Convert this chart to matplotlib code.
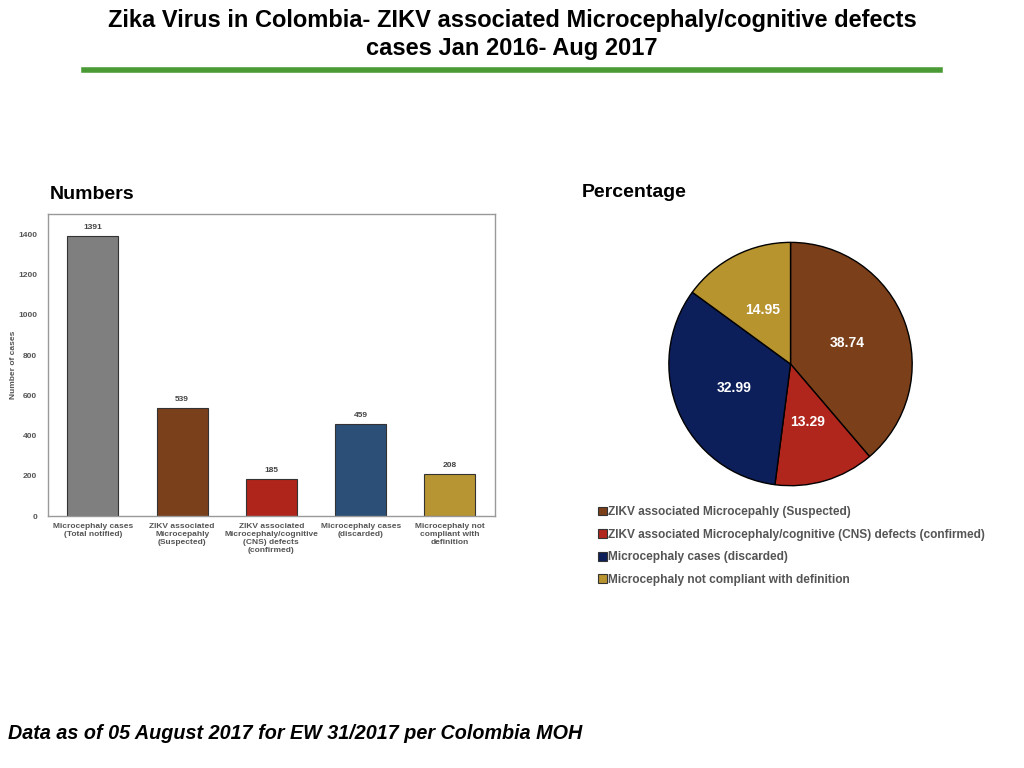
import matplotlib
matplotlib.use("Agg")
import matplotlib.pyplot as plt
from matplotlib.lines import Line2D
from matplotlib.patches import Patch

plt.rcParams["font.family"] = ["Liberation Sans", "DejaVu Sans"]

# Datos de barras
bar_labels = [
    "Microcephaly cases\n(Total notified)",
    "ZIKV associated\nMicrocepahly\n(Suspected)",
    "ZIKV associated\nMicrocephaly/cognitive\n(CNS) defects\n(confirmed)",
    "Microcephaly cases\n(discarded)",
    "Microcephaly not\ncompliant with\ndefinition",
]
bar_values = [1391, 539, 185, 459, 208]
bar_colors = ["#7f7f7f", "#7a3f1b", "#b0251b", "#2c4f78", "#b89533"]
y_ticks = [0, 200, 400, 600, 800, 1000, 1200, 1400]

# Datos del pastel
pie_labels = [
    "ZIKV associated Microcepahly (Suspected)",
    "ZIKV associated Microcephaly/cognitive (CNS) defects (confirmed)",
    "Microcephaly cases (discarded)",
    "Microcephaly not compliant with definition",
]
pie_values = [38.74, 13.29, 32.99, 14.95]
pie_colors = ["#7b3f1a", "#b0261c", "#0d1f5b", "#b8942f"]

fig = plt.figure(figsize=(10.24, 7.68), dpi=100)

# Titulo
fig.text(0.5, 0.955, "Zika Virus in Colombia- ZIKV associated Microcephaly/cognitive defects\ncases Jan 2016- Aug 2017",
         ha="center", va="center", fontsize=17, fontweight="bold",
         family=["Liberation Sans Narrow", "Liberation Sans"], linespacing=1.3)
fig.add_artist(Line2D([0.082, 0.918], [0.909, 0.909], color="#4a9a36", linewidth=4))

# Grafico de barras
ax = fig.add_axes([0.047, 0.328, 0.436, 0.393])
x = range(len(bar_values))
bars = ax.bar(x, bar_values, width=0.57, color=bar_colors, edgecolor="#333333", linewidth=0.8)
for b, v in zip(bars, bar_values):
    ax.text(b.get_x() + b.get_width() / 2, v + 25, str(v), ha="center", va="bottom",
            fontsize=6, fontweight="bold", color="#444444")
ax.set_xlim(-0.5, 4.5)
ax.set_ylim(0, 1500)
ax.set_yticks(y_ticks)
ax.set_xticks(list(x))
ax.set_xticklabels(bar_labels, fontsize=6, fontweight="bold", color="#555555")
ax.tick_params(axis="y", labelsize=6, labelcolor="#555555", length=0, pad=8)
ax.tick_params(axis="x", length=0, pad=5)
for lab in ax.get_yticklabels():
    lab.set_fontweight("bold")
ax.set_ylabel("Number of cases", fontsize=6, fontweight="bold", color="#555555", labelpad=1)
for s in ax.spines.values():
    s.set_color("#999999")
    s.set_linewidth(1)

fig.text(0.049, 0.747, "Numbers", fontsize=14, fontweight="bold", va="center")
fig.text(0.568, 0.749, "Percentage", fontsize=14, fontweight="bold", va="center")

# Grafico de pastel
pax = fig.add_axes([0.652, 0.366, 0.240, 0.320])
wedges, texts = pax.pie(pie_values, colors=pie_colors, startangle=90, counterclock=False,
                        labels=["%.2f" % v for v in pie_values], labeldistance=0.5,
                        wedgeprops=dict(edgecolor="black", linewidth=1))
for t in texts:
    t.set_color("white")
    t.set_fontsize(10)
    t.set_fontweight("bold")
    t.set_ha("center")
    t.set_va("center")
pax.set_xlim(-1.01, 1.01)
pax.set_ylim(-1.01, 1.01)

handles = [Patch(facecolor=c, edgecolor="#333333", linewidth=0.8) for c in pie_colors]
leg = fig.legend(handles, pie_labels, loc="upper left", bbox_to_anchor=(0.579, 0.347),
                 frameon=False, fontsize=8.6, handlelength=0.75, handleheight=0.75,
                 handletextpad=0.15, labelspacing=0.88, borderaxespad=0)
for t in leg.get_texts():
    t.set_color("#555555")
    t.set_fontweight("bold")

# Pie de pagina
fig.text(0.008, 0.045, "Data as of 05 August 2017 for EW 31/2017 per Colombia MOH",
         fontsize=14.2, fontweight="bold", fontstyle="italic", va="center")

fig.savefig("out.png", dpi=100)
